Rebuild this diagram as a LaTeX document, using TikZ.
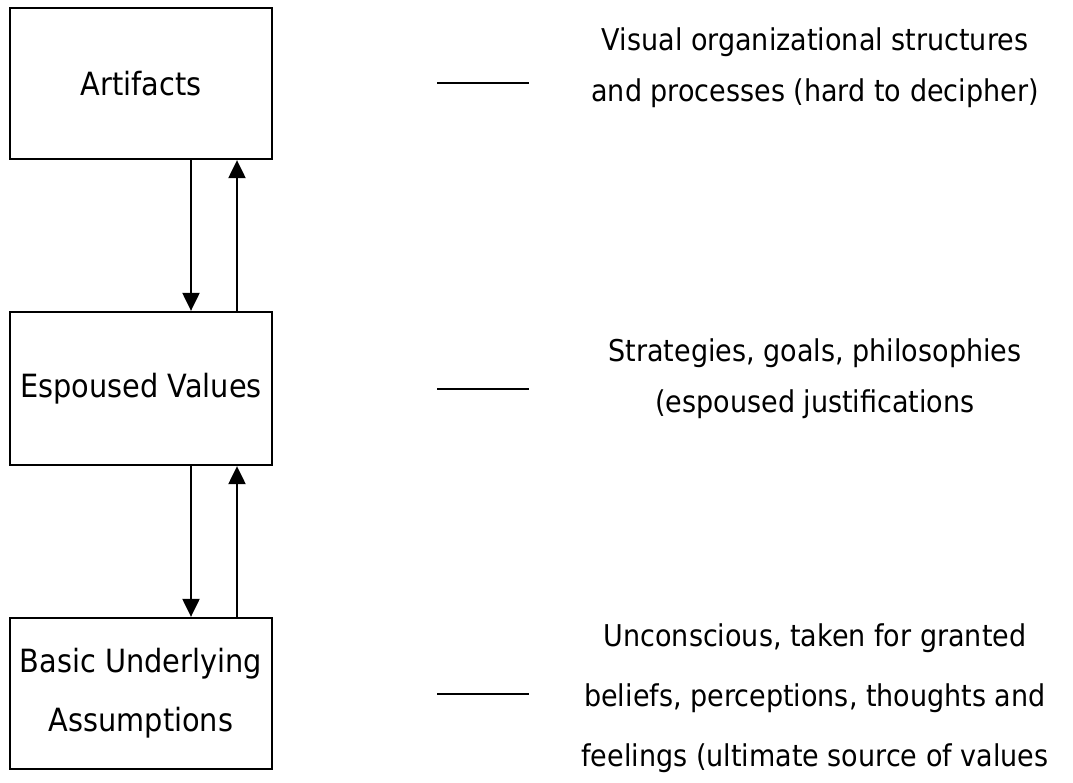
\documentclass[tikz,border=0pt]{standalone}
\usepackage{fontspec}
\setmainfont{DejaVu Sans}[FakeStretch=0.9]
\usetikzlibrary{arrows.meta}
\begin{document}
\begin{tikzpicture}[x=1pt,y=-1pt,
  layer/.style={draw, line width=2.3pt, minimum width=262pt, inner sep=0pt, align=center,
    font=\fontsize{32}{59}\selectfont},
  note/.style={align=center, inner sep=0pt, font=\fontsize{30}{51}\selectfont},
  arr/.style={line width=2.2pt, -{Triangle[length=18pt,width=17pt]}},
  tick/.style={line width=2.3pt}]
\useasboundingbox (0,0) rectangle (1073,782);
\node[layer, minimum height=151pt] (b1) at (141,83.5) {Artifacts};
\node[layer, minimum height=153pt] (b2) at (141,388.5) {Espoused Values};
\node[layer, minimum height=151pt] (b3) at (141,693.5) {Basic Underlying\\Assumptions};
\coordinate (dn) at (191,0);
\coordinate (up) at (237,0);
\draw[arr] (b1.south -| dn) -- (b2.north -| dn);
\draw[arr] (b2.north -| up) -- (b1.south -| up);
\draw[arr] (b2.south -| dn) -- (b3.north -| dn);
\draw[arr] (b3.north -| up) -- (b2.south -| up);
\coordinate (l1a) at (437,83); \coordinate (l1b) at (529,83);
\coordinate (l2a) at (437,389); \coordinate (l2b) at (529,389);
\coordinate (l3a) at (437,694); \coordinate (l3b) at (529,694);
\draw[tick] (l1a) -- (l1b);
\draw[tick] (l2a) -- (l2b);
\draw[tick] (l3a) -- (l3b);
\node[note] (t1) at (815,68) {Visual organizational structures\\and processes (hard to decipher)};
\node[note] (t2) at (815,379) {Strategies, goals, philosophies\\(espoused justifications};
\node[note, font=\fontsize{30}{60}\selectfont] (t3) at (815,698) {Unconscious, taken for granted\\beliefs, perceptions, thoughts and\\feelings (ultimate source of values};
\end{tikzpicture}
\end{document}
